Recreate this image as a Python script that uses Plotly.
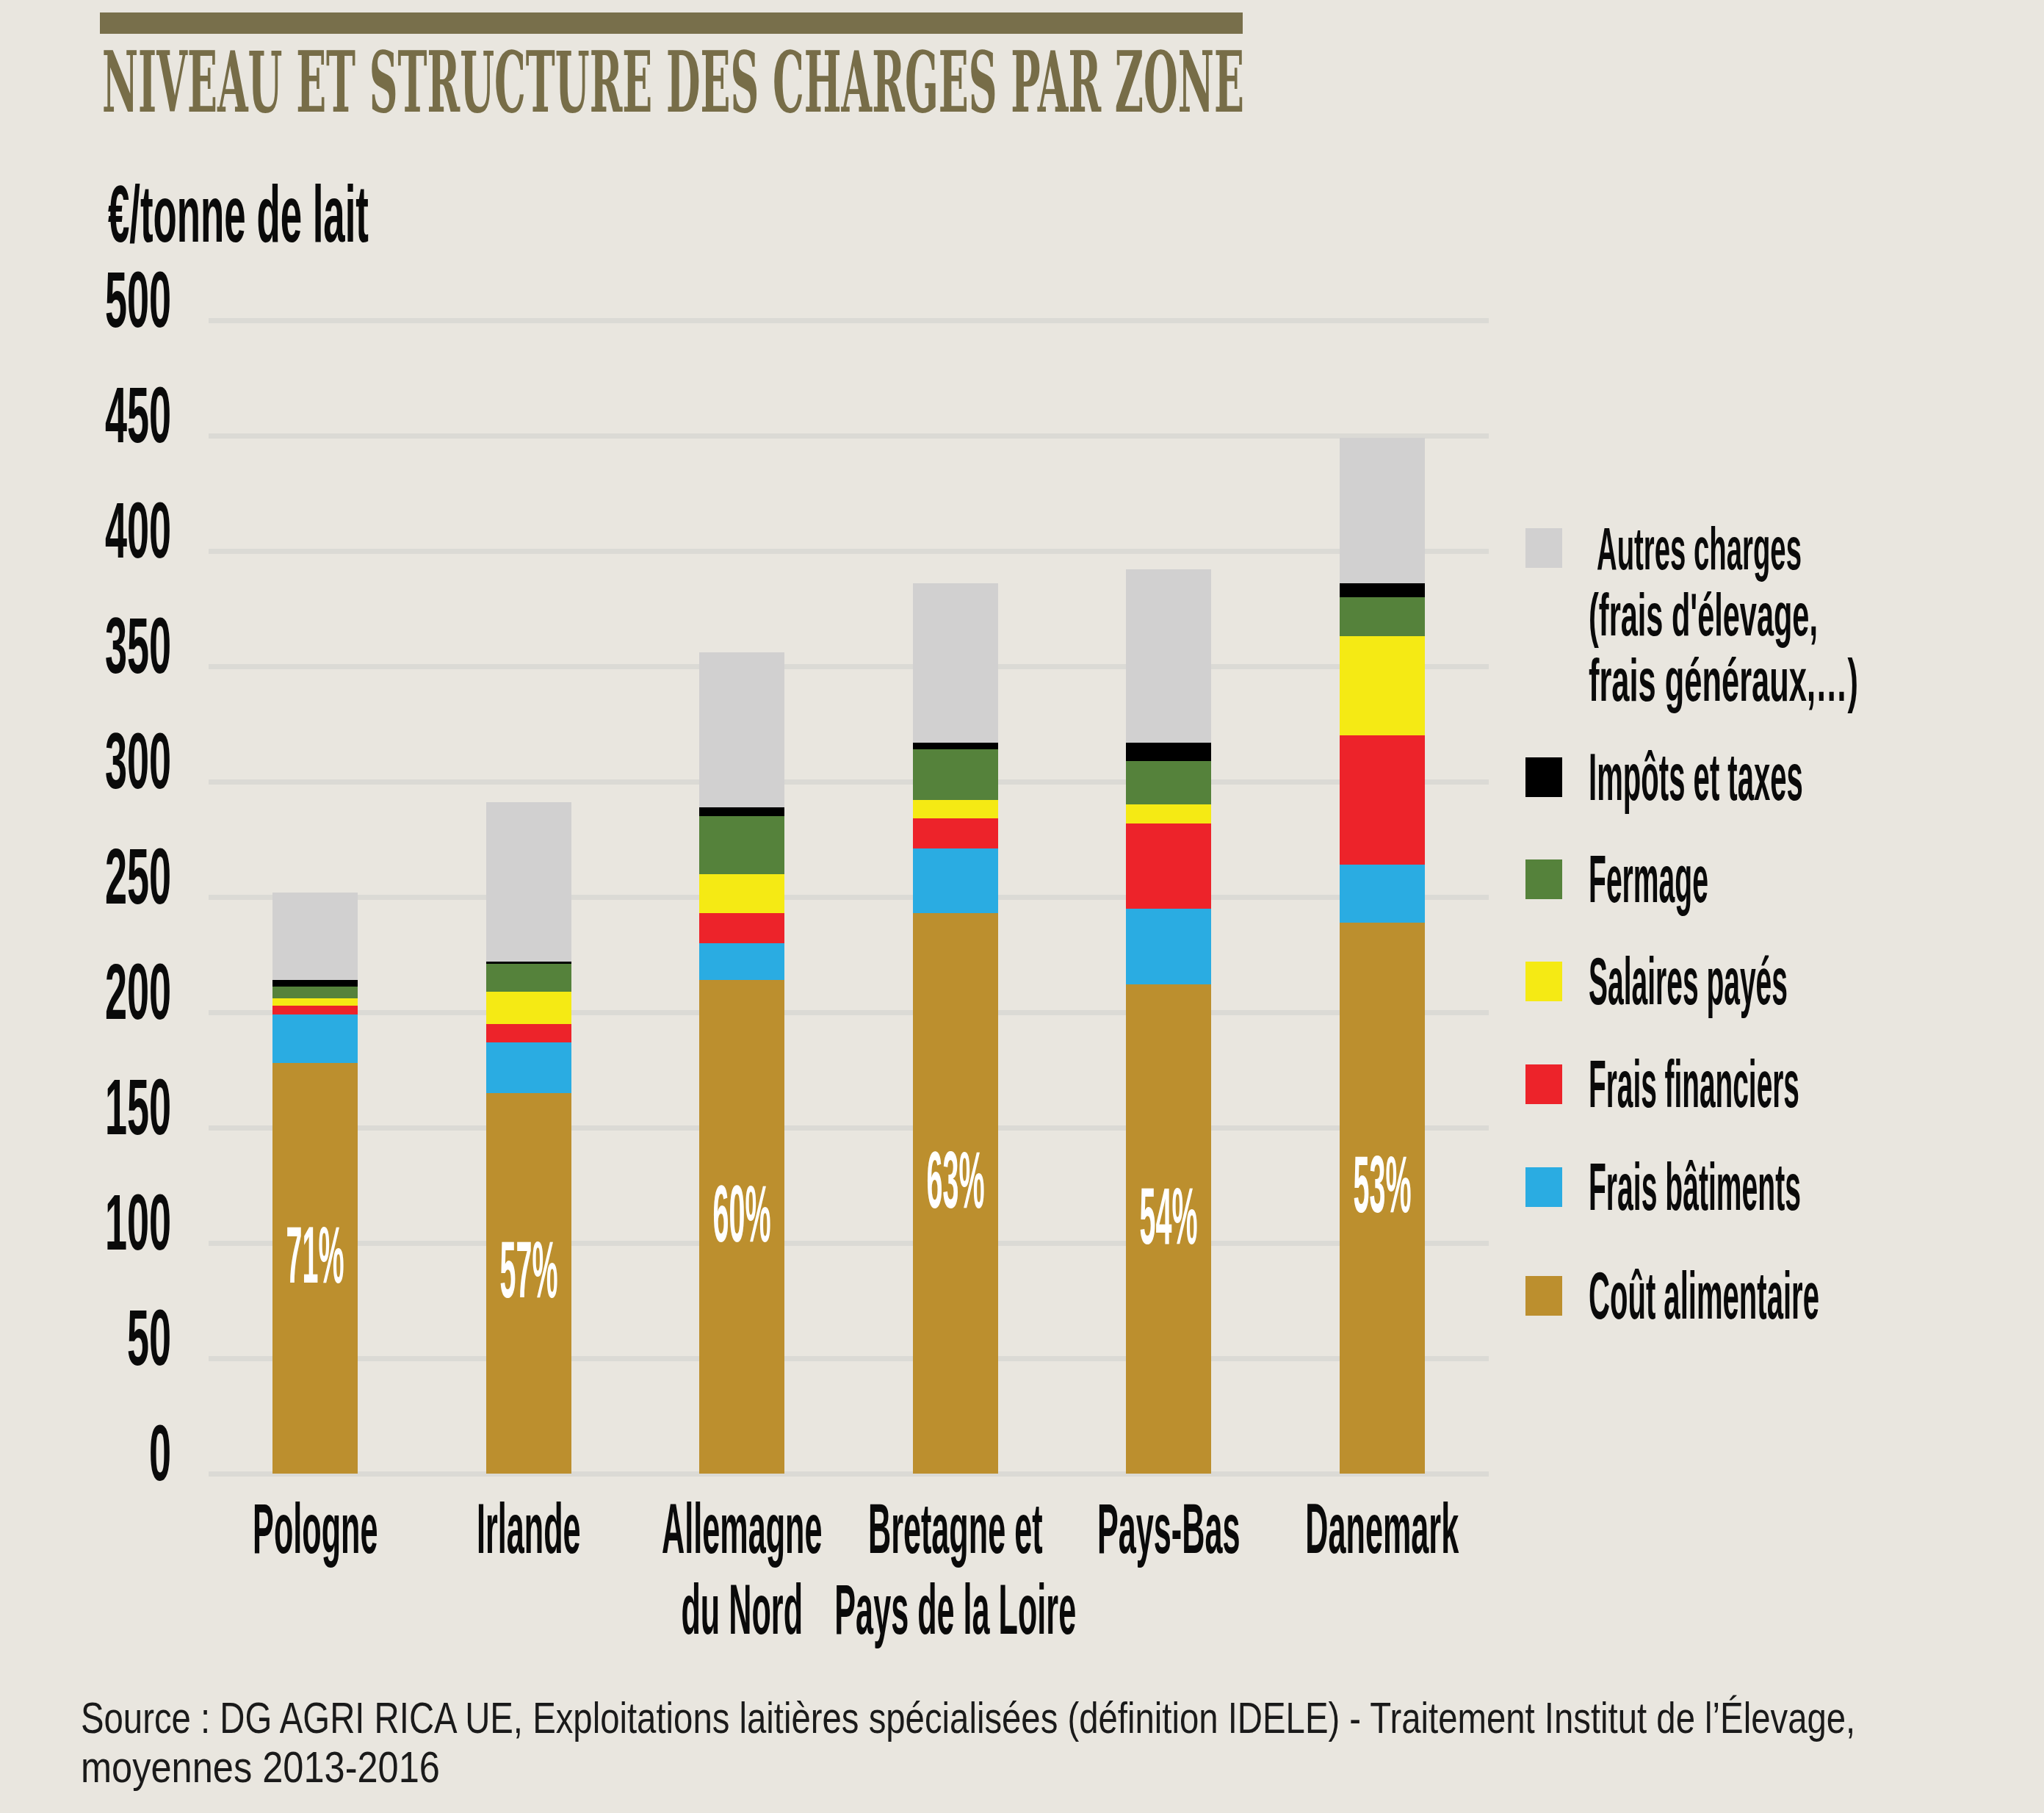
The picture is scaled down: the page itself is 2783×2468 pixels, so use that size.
import json
import plotly.graph_objects as go

W, H = 2783, 2468

# ---------------- data ----------------
categories = ["Pologne", "Irlande", "Allemagne<br>du Nord",
              "Bretagne et<br>Pays de la Loire", "Pays-Bas", "Danemark"]
cout_alimentaire = [178, 165, 214, 243, 212, 239]
frais_batiments = [21, 22, 16, 28, 33, 25]
frais_financiers = [4, 8, 13, 13, 37, 56]
salaires_payes = [3, 14, 17, 8, 8, 43]
fermage = [5, 12, 25, 22, 19, 17]
impots_taxes = [3, 1, 4, 3, 8, 6]
autres_charges = [38, 69, 67, 69, 75, 63]
part_alimentaire = ["71%", "57%", "60%", "63%", "54%", "53%"]

series_names = ["Coût alimentaire", "Frais bâtiments", "Frais financiers",
                "Salaires payés", "Fermage", "Impôts et taxes",
                "Autres charges (frais d'élevage, frais généraux,…)"]
series_values = [cout_alimentaire, frais_batiments, frais_financiers,
                 salaires_payes, fermage, impots_taxes, autres_charges]
series_colors = ["#bc8f2e", "#2aace2", "#ed232a", "#f5ea14",
                 "#55823b", "#000000", "#d1d0d0"]
legend_lines = [["Coût alimentaire"], ["Frais bâtiments"], ["Frais financiers"],
                ["Salaires payés"], ["Fermage"], ["Impôts et taxes"],
                ["Autres charges", "(frais d'élevage,", "frais généraux,…)"]]
y_ticks = [0, 50, 100, 150, 200, 250, 300, 350, 400, 450, 500]

title_text = "NIVEAU ET STRUCTURE DES CHARGES PAR ZONE"
unit_text = "€/tonne de lait"
source_lines = ["Source : DG AGRI RICA UE, Exploitations laitières spécialisées "
                "(définition IDELE) - Traitement Institut de l’Élevage,",
                "moyennes 2013-2016"]

# ---------------- helpers ----------------
def fx(px):
    return px / W

def fy(py):
    return 1 - py / H

BG = "#e9e6df"
SANS = "Liberation Sans, Arial, sans-serif"
SERIF = "DejaVu Serif, Liberation Serif, serif"

fig = go.Figure()
for name, vals, col in zip(series_names, series_values, series_colors):
    fig.add_trace(go.Bar(x=categories, y=vals, name=name,
                         marker=dict(color=col, line=dict(width=0)),
                         showlegend=False, hoverinfo="skip"))

annotations = []
targets = []   # rendered width (px) wanted for each annotation

def add_ann(target, **kw):
    annotations.append(dict(showarrow=False, **kw))
    targets.append(target)

# title bar + title
shapes = [dict(type="rect", xref="paper", yref="paper",
               x0=fx(136), x1=fx(1692), y0=fy(46), y1=fy(17),
               fillcolor="#786f4b", line=dict(width=0))]
add_ann(1555, text=title_text, x=fx(137), y=fy(112), xref="paper", yref="paper",
        xanchor="left", yanchor="middle", align="left",
        font=dict(family=SERIF, size=115, color="#776d48", weight="bold"))

add_ann(355, text=unit_text, x=fx(145), y=fy(291), xref="paper", yref="paper",
        xanchor="left", yanchor="middle", align="left",
        font=dict(family=SANS, size=110, color="#0a0a0a", weight="bold"))

for txt, cy, tw in zip(source_lines, [2338, 2405], [2417, 489]):
    add_ann(tw, text=txt, x=fx(108), y=fy(cy), xref="paper", yref="paper",
            xanchor="left", yanchor="middle", align="left",
            font=dict(family=SANS, size=60, color="#1a1a1a"))

# percentage labels in the food-cost segment
for cat, val, lab in zip(categories, cout_alimentaire, part_alimentaire):
    add_ann(79, text=lab, x=cat, y=val / 2, xref="x", yref="y",
            xanchor="center", yanchor="middle", yshift=19,
            font=dict(family=SANS, size=110, color="white", weight="bold"))

# custom legend (top to bottom = reversed stack order)
legend_centers = [1764, 1616, 1476, 1336, 1197, 1058, 746]
legend_widths = [[314], [289], [287], [271], [163], [292], [279, 312, 367]]
legend_line_x = [[2161], [2161], [2161], [2161], [2161], [2161], [2172, 2161, 2161]]
legend_font_size = [90, 90, 90, 90, 90, 90, 82]
line_step = 90
for lines, col, cy, wl, xl, fs in zip(legend_lines, series_colors, legend_centers,
                                      legend_widths, legend_line_x, legend_font_size):
    shapes.append(dict(type="rect", xref="paper", yref="paper",
                       x0=fx(2077), x1=fx(2127), y0=fy(cy + 27), y1=fy(cy - 27),
                       fillcolor=col, line=dict(width=0)))
    for k, (ln, tw, lx) in enumerate(zip(lines, wl, xl)):
        add_ann(tw, text=ln, x=fx(lx), y=fy(cy + line_step * k), xref="paper", yref="paper",
                xanchor="left", yanchor="middle", align="left",
                font=dict(family=SANS, size=fs, color="#0a0a0a", weight="bold"))

fig.update_layout(
    template="none",
    width=W, height=H,
    margin=dict(l=0, r=0, t=0, b=0, pad=0),
    paper_bgcolor=BG, plot_bgcolor=BG,
    barmode="stack", bargap=0.6,
    showlegend=False,
    shapes=shapes,
    annotations=annotations,
    xaxis=dict(domain=[fx(284), fx(2027)], type="category", range=[-0.5, 5.5],
               showgrid=False, zeroline=False, showline=False, ticks="",
               tickangle=0, automargin=False, ticklabelstandoff=3,
               tickfont=dict(family=SANS, size=96, color="#0a0a0a", weight="bold")),
    yaxis=dict(domain=[fy(2013.85), fy(428.15)], range=[-2.5, 502.5],
               tickvals=y_ticks, ticktext=[str(v) for v in y_ticks],
               showgrid=True, gridcolor="#dbdad5", gridwidth=7,
               zeroline=False, showline=False, ticks="", automargin=False,
               ticklabelstandoff=50, ticklabelshift=-29,
               tickfont=dict(family=SANS, size=108, color="#0a0a0a", weight="bold")),
)

post = """
(function(){
  var gd = document.getElementById('{plot_id}');
  var targets = TARGETS;
  function squeeze(el, s){
    if(!el || !isFinite(s) || s <= 0) return;
    var x = parseFloat(el.getAttribute('x')) || 0;
    var t = el.getAttribute('transform') || '';
    el.setAttribute('transform', t + ' translate(' + x + ',0) scale(' + s + ',1) translate(' + (-x) + ',0)');
  }
  function respace(el, r){
    if(!el || r === 1) return;
    el.querySelectorAll('tspan.line').forEach(function(ts){
      var v = parseFloat(ts.getAttribute('dy'));
      if(v) ts.setAttribute('dy', (v * r) + 'em');
    });
  }
  gd.querySelectorAll('g.annotation').forEach(function(g){
    var i = parseInt(g.getAttribute('data-index'));
    var t = g.querySelector('text.annotation-text');
    if(!t) return;
    var tw = targets[i];
    if(tw){
      var w = t.getBBox().width;
      if(w > 0) squeeze(t, tw / w);
    }
  });
  gd.querySelectorAll('.ytick text').forEach(function(el){ squeeze(el, 0.5); });
  gd.querySelectorAll('.xtick text').forEach(function(el){
    squeeze(el, 0.45);
    respace(el, 110 / (1.3 * 96));
  });
})();
""".replace("TARGETS", json.dumps(targets))

fig.write_html("out.html", post_script=post,
               config={"displayModeBar": False, "responsive": False})
